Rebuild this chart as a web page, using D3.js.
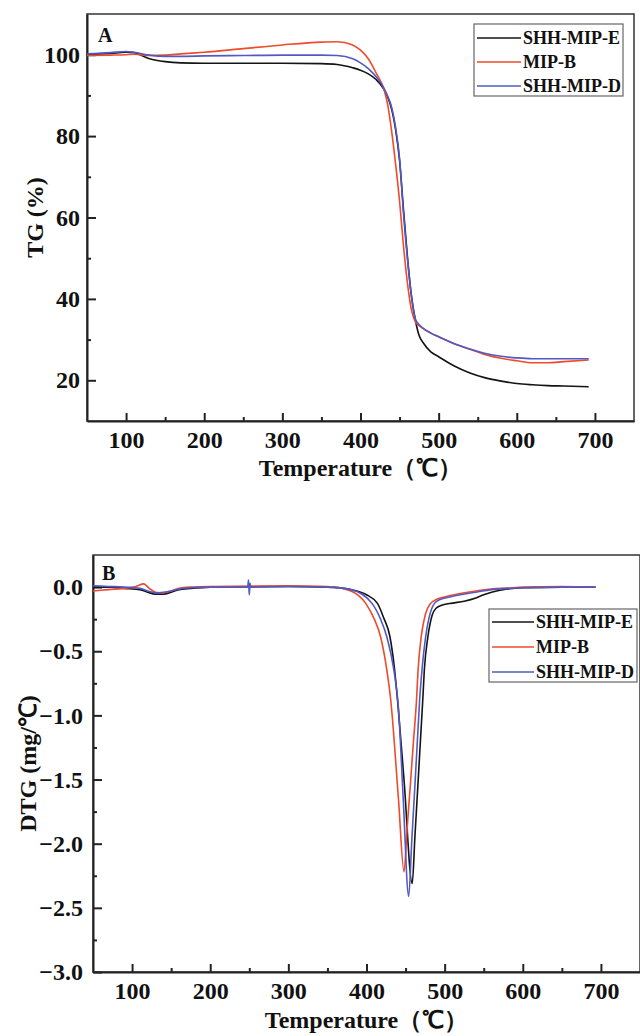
<!DOCTYPE html>
<html lang="en">
  <head>
    <meta charset="UTF-8" />
    <title>TG / DTG curves</title>
    <script src="https://d3js.org/d3.v7.min.js"></script>
    <style>
      body {
        margin: 0;
        padding: 0;
        background-color: #fff;
      }
      svg text {
        font-family: "Liberation Serif", "Times New Roman", serif;
        font-weight: bold;
        fill: #111;
      }
    </style>
  </head>
  <body>
    <div id="chart"></div>

    <script>
      const seriesNames = ["SHH-MIP-E", "MIP-B", "SHH-MIP-D"];
      const seriesColors = ["#141414", "#ee4b2b", "#5258c4"];

      const xTicks = [100, 200, 300, 400, 500, 600, 700];
      const tgTicks = [20, 40, 60, 80, 100];
      const dtgTicks = [0, -0.5, -1.0, -1.5, -2.0, -2.5, -3.0];

      // TG (%)
      const tgTemp = [50, 80, 100, 110, 130, 150, 170, 200, 250, 300, 350, 370, 390, 400, 410, 420, 430, 435, 440, 445, 450, 455, 460, 465, 470, 475, 480, 490, 500, 520, 540, 560, 580, 600, 620, 640, 660, 692];
      const tgE = [100, 100.3, 100.6, 100.5, 99.0, 98.3, 98.0, 97.9, 97.9, 97.9, 97.8, 97.6, 96.8, 96.2, 95.3, 93.9, 91.5, 89.5, 86.5, 81.5, 74, 62, 50.5, 41, 35, 31, 29.3, 27, 25.8, 23.5, 21.8, 20.6, 19.8, 19.2, 18.9, 18.7, 18.6, 18.4];
      const tgB = [99.8, 99.9, 100.0, 100.1, 99.8, 99.9, 100.2, 100.6, 101.5, 102.4, 103.1, 103.2, 102.4, 101.1, 99.0, 95.5, 91.5, 87.5, 81, 73, 64, 53, 44, 37.5, 34.4, 33.4, 32.7, 31.6, 30.7, 29.0, 27.6, 26.3, 25.4, 24.8, 24.3, 24.3, 24.6, 25.0];
      const tgD = [100.2, 100.5, 100.8, 100.6, 99.9, 99.6, 99.6, 99.7, 99.8, 99.9, 99.9, 99.8, 99.0, 98.0, 96.6, 94.6, 91.8, 89.7, 87, 82, 74.5, 61, 50, 41, 35.2, 33.7, 32.8, 31.6, 30.7, 29.0, 27.7, 26.6, 25.9, 25.5, 25.3, 25.3, 25.3, 25.3];

      // DTG (mg/℃), one temperature list per sample
      const dtgTempE = [50, 70, 90, 110, 120, 130, 140, 150, 160, 175, 200, 300, 350, 380, 400, 414, 422, 430, 436, 440, 448, 458.5, 462, 466, 469, 472, 474, 478.6, 484, 489, 497, 510, 525, 540, 550, 560, 580, 600, 650, 693];
      const dtgE = [0, 0, -0.01, -0.02, -0.04, -0.055, -0.055, -0.04, -0.02, -0.01, 0, 0.005, 0, -0.02, -0.06, -0.127, -0.24, -0.387, -0.646, -0.9, -1.5, -2.31, -1.94, -1.52, -1.2, -0.88, -0.646, -0.387, -0.22, -0.165, -0.14, -0.125, -0.11, -0.085, -0.06, -0.04, -0.015, -0.005, 0, 0];
      const dtgTempB = [50, 70, 90, 105, 115, 122, 130, 140, 150, 160, 175, 200, 300, 350, 380, 399, 410, 418, 426, 431, 441, 448, 452, 456, 460, 464, 466, 470, 475, 482, 490, 501, 520, 540, 560, 580, 600, 650, 693];
      const dtgB = [-0.03, -0.02, -0.01, 0.005, 0.025, -0.01, -0.04, -0.045, -0.03, -0.01, 0, 0.005, 0.01, 0.005, -0.03, -0.127, -0.25, -0.387, -0.646, -0.88, -1.66, -2.22, -1.88, -1.55, -1.21, -0.88, -0.646, -0.387, -0.22, -0.127, -0.095, -0.075, -0.05, -0.03, -0.015, -0.008, 0, 0.005, 0];
      const dtgTempD = [50, 70, 90, 110, 120, 130, 140, 150, 160, 175, 200, 248, 249, 250, 251, 252, 300, 350, 380, 407, 418, 426, 435, 441, 447, 454, 458, 462, 465, 468, 471, 475.7, 480, 487, 495, 505, 520, 540, 560, 580, 600, 650, 693];
      const dtgD = [0.01, 0.005, 0, -0.01, -0.03, -0.045, -0.04, -0.03, -0.015, -0.005, 0, 0, 0.055, -0.06, 0.03, 0, 0.005, 0, -0.02, -0.127, -0.25, -0.387, -0.646, -0.95, -1.65, -2.41, -1.97, -1.54, -1.21, -0.88, -0.646, -0.387, -0.24, -0.127, -0.095, -0.08, -0.06, -0.04, -0.02, -0.01, -0.005, 0, 0];

      const width = 640;
      const height = 1036;

      const svg = d3.select("#chart").append("svg").attr("width", width).attr("height", height);
      svg.append("rect").attr("width", width).attr("height", height).attr("fill", "#fff");

      function drawPanel(opt) {
        const x = d3.scaleLinear().domain([50, 750]).range([opt.left, opt.left + 547]);
        const y = d3.scaleLinear().domain(opt.yDomain).range([opt.bottom, opt.top]);
        const g = svg.append("g");

        // frame
        g.append("rect")
          .attr("x", x(50))
          .attr("y", y(opt.yDomain[1]))
          .attr("width", x(750) - x(50))
          .attr("height", y(opt.yDomain[0]) - y(opt.yDomain[1]))
          .attr("fill", "none")
          .attr("stroke", "#333")
          .attr("stroke-width", 1.5);

        // minor ticks
        const xMinor = d3.range(150, 750, 100);
        g.append("g")
          .attr("transform", `translate(0,${opt.bottom})`)
          .call(d3.axisBottom(x).tickValues(xMinor).tickSize(-4).tickFormat(""))
          .call((a) => a.select(".domain").remove())
          .call((a) => a.selectAll("line").attr("stroke", "#222").attr("stroke-width", 2));
        g.append("g")
          .attr("transform", `translate(${opt.left},0)`)
          .call(d3.axisLeft(y).tickValues(opt.yMinor).tickSize(-4).tickFormat(""))
          .call((a) => a.select(".domain").remove())
          .call((a) => a.selectAll("line").attr("stroke", "#222").attr("stroke-width", 2));

        // major axes
        const xAxis = g
          .append("g")
          .attr("transform", `translate(0,${opt.bottom})`)
          .call(d3.axisBottom(x).tickValues(xTicks).tickSizeInner(-8).tickSizeOuter(0).tickPadding(10));
        const yAxis = g
          .append("g")
          .attr("transform", `translate(${opt.left},0)`)
          .call(d3.axisLeft(y).tickValues(opt.yTicks).tickSizeInner(-9).tickSizeOuter(0).tickPadding(opt.yPad).tickFormat(opt.yFormat));
        [xAxis, yAxis].forEach((a) => {
          a.select(".domain").attr("stroke", "#222").attr("stroke-width", 2);
          a.selectAll("line").attr("stroke", "#222").attr("stroke-width", 2);
          a.selectAll("text").attr("font-family", null).style("font-size", "24px").attr("fill", "#111");
        });

        // curves
        const line = d3
          .line()
          .x((d) => x(d[0]))
          .y((d) => y(d[1]))
          .curve(d3.curveMonotoneX);
        opt.series.forEach((vals, i) => {
          const temps = opt.temps[i];
          g.append("path")
            .datum(temps.map((t, j) => [t, vals[j]]))
            .attr("fill", "none")
            .attr("stroke", seriesColors[i])
            .attr("stroke-width", 1.6)
            .attr("d", line);
        });

        // panel letter
        g.append("text").attr("x", opt.letterX).attr("y", opt.letterY).style("font-size", "20px").text(opt.letter);

        // axis titles
        g.append("text")
          .attr("x", (x(50) + x(750)) / 2 + opt.titleShift)
          .attr("y", opt.xTitleY)
          .attr("text-anchor", "middle")
          .style("font-size", "24px")
          .text("Temperature（℃）");
        g.append("text")
          .attr("transform", `translate(${opt.yTitleX},${(opt.top + opt.bottom) / 2}) rotate(-90)`)
          .attr("text-anchor", "middle")
          .style("font-size", "24px")
          .text(opt.yTitle);

        // legend
        const lg = g.append("g");
        lg.append("rect")
          .attr("x", opt.legend.x)
          .attr("y", opt.legend.y)
          .attr("width", opt.legend.w)
          .attr("height", opt.legend.h)
          .attr("fill", "#fff")
          .attr("stroke", "#666")
          .attr("stroke-width", 1.2);
        seriesNames.forEach((name, i) => {
          const ry = opt.legend.y + opt.legend.first + i * opt.legend.step;
          lg.append("line")
            .attr("x1", opt.legend.x + 3)
            .attr("x2", opt.legend.x + opt.legend.lineLen)
            .attr("y1", ry)
            .attr("y2", ry)
            .attr("stroke", seriesColors[i])
            .attr("stroke-width", 1.6);
          lg.append("text")
            .attr("x", opt.legend.x + opt.legend.lineLen + 2)
            .attr("y", ry + 6)
            .style("font-size", "18px")
            .text(name);
        });
      }

      drawPanel({
        left: 87,
        top: 14,
        bottom: 421,
        yDomain: [10, 110],
        yTicks: tgTicks,
        yMinor: [30, 50, 70, 90],
        yPad: 7,
        yFormat: d3.format("d"),
        temps: [tgTemp, tgTemp, tgTemp],
        series: [tgE, tgB, tgD],
        letter: "A",
        letterX: 98,
        letterY: 42,
        xTitleY: 476,
        titleShift: 0,
        yTitleX: 43,
        yTitle: "TG (%)",
        legend: { x: 474, y: 24, w: 149, h: 72, first: 14, step: 24, lineLen: 47 },
      });

      drawPanel({
        left: 93,
        top: 555,
        bottom: 972,
        yDomain: [-3, 0.25],
        yTicks: dtgTicks,
        yMinor: [-0.25, -0.75, -1.25, -1.75, -2.25, -2.75],
        yPad: 10,
        yFormat: d3.format(".1f"),
        temps: [dtgTempE, dtgTempB, dtgTempD],
        series: [dtgE, dtgB, dtgD],
        letter: "B",
        letterX: 102,
        letterY: 580,
        xTitleY: 1028,
        titleShift: 0,
        yTitleX: 36,
        yTitle: "DTG (mg/℃)",
        legend: { x: 489, y: 609, w: 148, h: 73, first: 13, step: 25, lineLen: 45 },
      });
    </script>
  </body>
</html>
